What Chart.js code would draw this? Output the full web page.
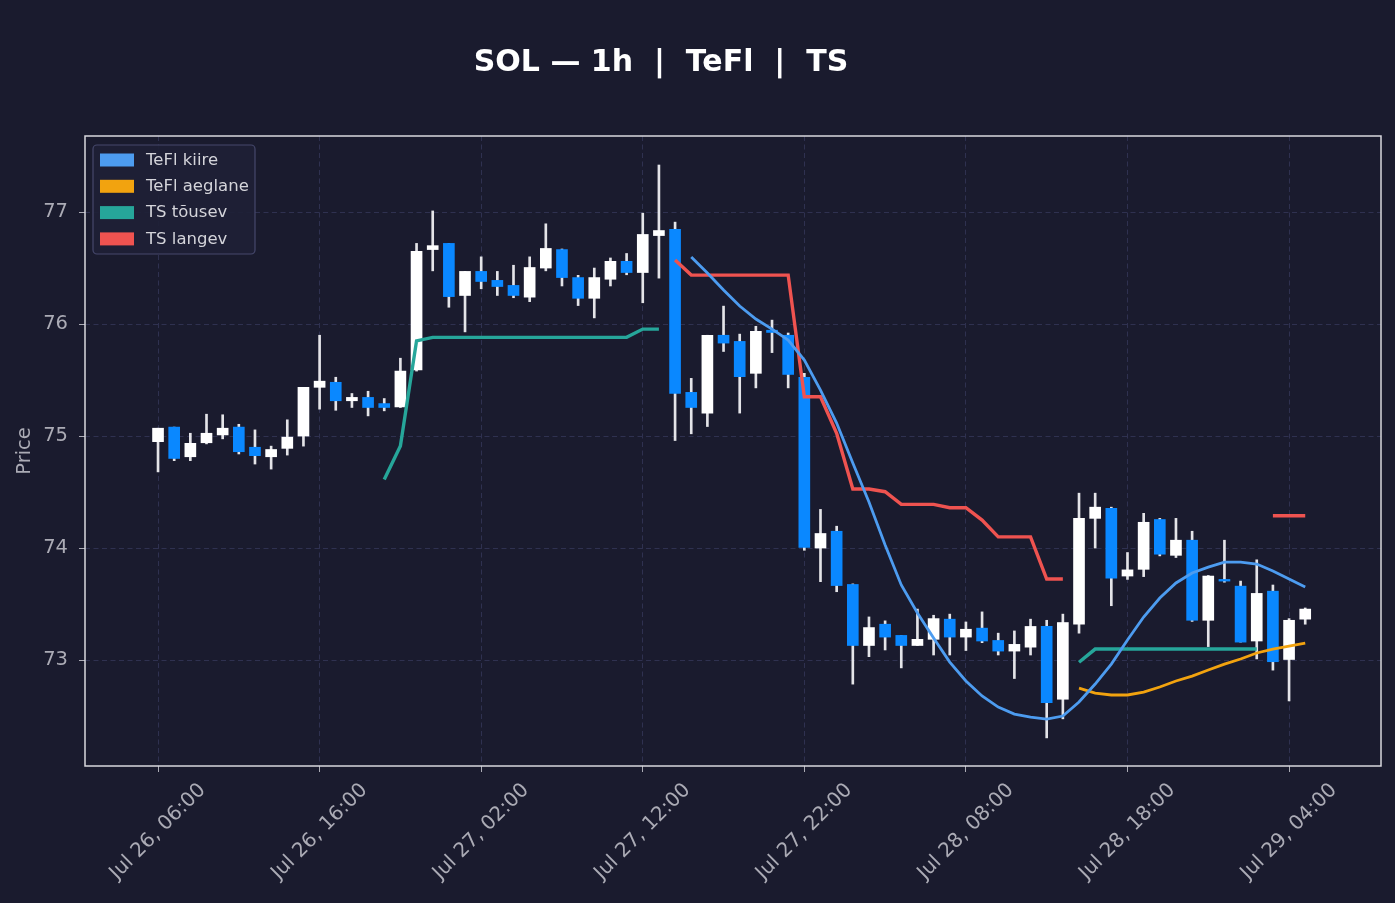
<!DOCTYPE html>
<html><head><meta charset="utf-8">
<script src="https://cdn.jsdelivr.net/npm/chart.js@4"></script>
<style>html,body{margin:0;padding:0;background:#1a1b2e;}canvas{display:block;}</style>
</head><body>
<canvas id="c" width="1395" height="903" style="width:1395px;height:903px"></canvas>
<script>
const chartTitle = 'SOL \u2014 1h  |  TeFl  |  TS';
const tickIndex = [0, 10, 20, 30, 40, 50, 60, 70];
const tickLabels = ['Jul 26, 06:00','Jul 26, 16:00','Jul 27, 02:00','Jul 27, 12:00','Jul 27, 22:00','Jul 28, 08:00','Jul 28, 18:00','Jul 29, 04:00'];
const yTicks = [73, 74, 75, 76, 77];

const opens = [74.95,75.08,74.815,74.94,75.01,75.08,74.90,74.815,74.89,75.00,75.435,75.48,75.315,75.345,75.29,75.26,75.59,76.665,76.72,76.255,76.47,76.39,76.345,76.24,76.50,76.665,76.415,76.23,76.40,76.56,76.46,76.79,76.845,75.39,75.205,75.90,75.845,75.56,75.945,75.90,75.525,74.00,74.15,73.675,73.13,73.32,73.22,73.13,73.185,73.365,73.205,73.285,73.175,73.08,73.115,73.30,72.65,73.32,74.265,74.355,73.75,73.81,74.255,73.935,74.07,73.355,73.72,73.66,73.17,73.615,73.005,73.365];
const highs = [75.07,75.08,75.025,75.195,75.19,75.105,75.055,74.91,75.145,75.435,75.90,75.525,75.38,75.40,75.335,75.695,76.72,77.01,76.72,76.47,76.60,76.47,76.525,76.60,76.895,76.67,76.435,76.50,76.59,76.63,76.99,77.42,76.91,75.515,75.90,76.16,75.91,75.98,76.035,75.92,75.56,74.345,74.195,73.68,73.385,73.35,73.22,73.455,73.40,73.41,73.34,73.43,73.24,73.26,73.365,73.355,73.41,74.49,74.49,74.365,73.96,74.31,74.265,74.265,74.15,73.755,74.07,73.705,73.895,73.67,73.37,73.465];
const lows = [74.68,74.78,74.78,74.93,74.975,74.84,74.75,74.705,74.83,74.91,75.24,75.23,75.255,75.18,75.225,75.255,75.58,76.475,76.15,75.93,76.315,76.255,76.235,76.20,76.475,76.34,76.165,76.055,76.34,76.44,76.19,76.41,74.96,75.02,75.085,75.755,75.205,75.43,75.745,75.43,73.98,73.70,73.61,72.785,73.03,73.09,72.93,73.13,73.045,73.045,73.085,73.155,73.045,72.835,73.045,72.305,72.475,73.24,74.00,73.485,73.72,73.745,73.93,73.915,73.345,73.12,73.695,73.16,73.01,72.91,72.635,73.32];
const closes = [75.07,74.80,74.935,75.025,75.07,74.86,74.825,74.88,74.99,75.435,75.49,75.315,75.345,75.255,75.255,75.58,76.65,76.70,76.245,76.47,76.38,76.335,76.255,76.505,76.675,76.415,76.23,76.415,76.56,76.46,76.80,76.835,75.38,75.255,75.90,75.83,75.53,75.935,75.925,75.55,74.005,74.13,73.665,73.13,73.29,73.205,73.13,73.185,73.37,73.205,73.275,73.17,73.08,73.14,73.30,72.62,73.335,74.265,74.365,73.73,73.805,74.23,73.945,74.07,73.355,73.75,73.705,73.16,73.595,72.985,73.355,73.455];

const _ = null;
const teflKiire = [_,_,_,_,_,_,_,_,_,_,_,_,_,_,_,_,_,_,_,_,_,_,_,_,_,_,_,_,_,_,_,_,_,
  76.598,76.455,76.304,76.161,76.045,75.955,75.857,75.679,75.411,75.116,74.759,74.411,74.027,73.670,73.420,73.196,72.982,72.813,72.679,72.580,72.518,72.491,72.473,72.500,72.625,72.786,72.964,73.179,73.384,73.554,73.688,73.777,73.830,73.875,73.875,73.857,73.795,73.723,73.652];
const teflAeglane = [_,_,_,_,_,_,_,_,_,_,_,_,_,_,_,_,_,_,_,_,_,_,_,_,_,_,_,_,_,_,_,_,_,_,_,_,_,_,_,_,_,_,_,_,_,_,_,_,_,_,_,_,_,_,_,_,_,
  72.750,72.705,72.688,72.688,72.714,72.759,72.813,72.857,72.911,72.964,73.009,73.063,73.098,73.125,73.152];
const tsTousev = [_,_,_,_,_,_,_,_,_,_,_,_,_,_,
  74.613,74.911,75.850,75.881,75.881,75.881,75.881,75.881,75.881,75.881,75.881,75.881,75.881,75.881,75.881,75.881,75.955,75.955,
  _,_,_,_,_,_,_,_,_,_,_,_,_,_,_,_,_,_,_,_,_,_,_,_,_,
  72.980,73.098,73.098,73.098,73.098,73.098,73.098,73.098,73.098,73.098,73.098,73.098,_,_,_];
const tsLangev = [_,_,_,_,_,_,_,_,_,_,_,_,_,_,_,_,_,_,_,_,_,_,_,_,_,_,_,_,_,_,_,_,
  76.571,76.437,76.437,76.437,76.437,76.437,76.437,76.437,75.351,75.351,75.024,74.527,74.527,74.503,74.390,74.390,74.390,74.360,74.360,74.250,74.100,74.100,74.100,73.723,73.723,
  _,_,_,_,_,_,_,_,_,_,_,_,74.288,74.288,74.288];

const BG = '#1a1b2e';
const UP = '#ffffff', DOWN = '#0a88ff', WICK = '#e4e4e8';
const C_KIIRE = '#4d9cf0', C_AEG = '#f2a30f', C_TOUS = '#26a69a', C_LANG = '#ef5350';
const TICK_COL = '#ababb5', GRID_COL = '#2f3150', FRAME_COL = '#d9d9de';
const FONT = "'DejaVu Sans', sans-serif";

const legendItems = [
  {label: 'TeFl kiire', color: C_KIIRE},
  {label: 'TeFl aeglane', color: C_AEG},
  {label: 'TS t\u00f5usev', color: C_TOUS},
  {label: 'TS langev', color: C_LANG}
];

const pts = arr => arr.map((v, i) => ({x: i, y: v}));

const deco = {
  id: 'deco',
  beforeDraw(chart) {
    const ctx = chart.ctx;
    ctx.save();
    ctx.fillStyle = BG;
    ctx.fillRect(0, 0, chart.width, chart.height);
    ctx.restore();
  },
  afterDraw(chart) {
    const ctx = chart.ctx, a = chart.chartArea, xs = chart.scales.x;
    ctx.save();
    ctx.strokeStyle = FRAME_COL; ctx.lineWidth = 1.5;
    ctx.strokeRect(a.left, a.top, a.right - a.left, a.bottom - a.top);
    ctx.fillStyle = TICK_COL;
    ctx.font = "20px " + FONT;
    ctx.textAlign = 'center'; ctx.textBaseline = 'middle';
    tickIndex.forEach((v, k) => {
      const px = xs.getPixelForValue(v);
      const w = ctx.measureText(tickLabels[k]).width;
      const H = (w + 17) * Math.SQRT1_2;
      ctx.save();
      ctx.translate(px, 781 + H / 2);
      ctx.rotate(-Math.PI / 4);
      ctx.fillText(tickLabels[k], 0, 0);
      ctx.restore();
    });
    const lx = 93, ly = 145, lw = 162, lh = 109;
    ctx.beginPath();
    if (ctx.roundRect) ctx.roundRect(lx, ly, lw, lh, 4); else ctx.rect(lx, ly, lw, lh);
    ctx.fillStyle = 'rgba(30,31,54,0.92)';
    ctx.fill();
    ctx.strokeStyle = '#46486c'; ctx.lineWidth = 1.2; ctx.stroke();
    ctx.font = "16.5px " + FONT; ctx.textAlign = 'left'; ctx.textBaseline = 'middle';
    legendItems.forEach((it, k) => {
      const cy = 160 + k * 26.3;
      ctx.fillStyle = it.color;
      ctx.fillRect(100, cy - 6.5, 34, 13);
      ctx.fillStyle = '#d4d4da';
      ctx.fillText(it.label, 146, cy + 0.5);
    });
    ctx.fillStyle = '#ffffff';
    ctx.font = "bold 30px " + FONT;
    ctx.textAlign = 'center'; ctx.textBaseline = 'middle';
    ctx.fillText(chartTitle, 661, 63);
    ctx.restore();
  }
};

new Chart(document.getElementById('c'), {
  type: 'bar',
  data: {
    datasets: [
      {type: 'line', label: 'TeFl kiire', data: pts(teflKiire), borderColor: C_KIIRE, borderWidth: 2.8, pointRadius: 0, spanGaps: false, tension: 0, order: 0},
      {type: 'line', label: 'TeFl aeglane', data: pts(teflAeglane), borderColor: C_AEG, borderWidth: 2.8, pointRadius: 0, spanGaps: false, tension: 0, order: 0},
      {type: 'line', label: 'TS tõusev', data: pts(tsTousev), borderColor: C_TOUS, borderWidth: 3.4, pointRadius: 0, spanGaps: false, tension: 0, order: 0},
      {type: 'line', label: 'TS langev', data: pts(tsLangev), borderColor: C_LANG, borderWidth: 3.4, pointRadius: 0, spanGaps: false, tension: 0, order: 0},
      {type: 'bar', label: 'body', data: opens.map((o, i) => ({x: i, y: [o, closes[i]]})),
        backgroundColor: opens.map((o, i) => closes[i] >= o ? UP : DOWN), barThickness: 11, grouped: false, order: 1, borderWidth: 0},
      {type: 'bar', label: 'wick', data: lows.map((l, i) => ({x: i, y: [l, highs[i]]})),
        backgroundColor: WICK, barThickness: 2, grouped: false, order: 2, borderWidth: 0}
    ]
  },
  options: {
    responsive: false, devicePixelRatio: 1, animation: false,
    layout: {padding: {top: 136, right: 14, bottom: 0, left: 0}},
    plugins: {legend: {display: false}, title: {display: false}, tooltip: {enabled: false}},
    scales: {
      x: {
        type: 'linear', min: -4.52, max: 75.69, offset: false,
        afterBuildTicks: s => { s.ticks = tickIndex.map(v => ({value: v})); },
        afterFit: s => { s.height = 137; },
        ticks: {display: false},
        grid: {color: GRID_COL, lineWidth: 1, offset: false, drawTicks: true, tickLength: 6, tickColor: TICK_COL, tickWidth: 1},
        border: {display: false, dash: [5, 3.5]}
      },
      y: {
        min: 72.054, max: 77.679,
        afterBuildTicks: s => { s.ticks = yTicks.map(v => ({value: v})); },
        afterFit: s => { s.width = 85; },
        ticks: {color: TICK_COL, font: {family: FONT, size: 19.5}, padding: 11},
        grid: {color: GRID_COL, lineWidth: 1, drawTicks: true, tickLength: 6, tickColor: TICK_COL, tickWidth: 1},
        border: {display: false, dash: [5, 3.5]},
        title: {display: true, text: 'Price', color: TICK_COL, font: {family: FONT, size: 19.5}, padding: {top: 13, bottom: 0}}
      }
    }
  },
  plugins: [deco]
});
</script>
</body></html>
